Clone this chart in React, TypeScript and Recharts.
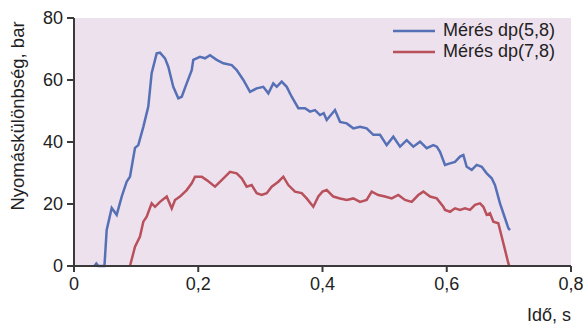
import React from 'react';
import { LineChart, Line, XAxis, YAxis, CartesianGrid, Label } from 'recharts';

const blueTime = [0.033, 0.036, 0.039, 0.049, 0.0526, 0.0607, 0.0687, 0.0768, 0.0848, 0.0901, 0.0982, 0.1035, 0.1116, 0.1196, 0.125, 0.1331, 0.1384, 0.1465, 0.1518, 0.1598, 0.1679, 0.1734, 0.1814, 0.1895, 0.192, 0.2028, 0.2109, 0.2189, 0.2297, 0.2404, 0.2539, 0.2619, 0.2726, 0.2833, 0.2941, 0.3047, 0.3128, 0.3208, 0.3263, 0.3343, 0.3424, 0.3504, 0.3611, 0.3718, 0.3799, 0.3879, 0.396, 0.402, 0.4068, 0.4201, 0.4282, 0.439, 0.4496, 0.4604, 0.4711, 0.4818, 0.4926, 0.5033, 0.514, 0.5248, 0.5355, 0.5462, 0.557, 0.5677, 0.5784, 0.584, 0.5892, 0.5972, 0.6053, 0.6133, 0.6213, 0.6267, 0.6321, 0.6402, 0.6482, 0.6563, 0.6643, 0.6724, 0.6777, 0.6857, 0.6938, 0.6991, 0.7018];
const blueValue = [0, 0.8, 0, 0, 11.6, 18.7, 16.5, 22.4, 27.2, 28.8, 38.1, 39, 44.9, 51.4, 62.2, 68.6, 68.8, 67, 64.3, 57.8, 54.1, 54.6, 58.9, 63.2, 66.5, 67.5, 67, 68, 66.5, 65.4, 64.8, 63.2, 60, 56.2, 57.3, 57.8, 55.7, 58.9, 57.8, 59.5, 57.8, 54.6, 50.9, 50.9, 49.8, 50.3, 48.7, 49.3, 47.1, 50.3, 46.5, 46, 44.4, 44.9, 44.4, 42.3, 42.3, 39, 41.7, 38.5, 40.6, 38.5, 40.1, 38, 39, 38.5, 36.8, 32.6, 33.1, 33.6, 35.3, 35.8, 32, 31, 32.6, 32, 29.9, 28.3, 26.1, 20.2, 15.4, 12.2, 11.6];

const redTime = [0.0901, 0.0982, 0.1062, 0.1116, 0.117, 0.125, 0.1304, 0.1384, 0.1492, 0.1573, 0.1626, 0.1706, 0.1814, 0.1895, 0.1948, 0.2056, 0.2136, 0.227, 0.2377, 0.2511, 0.2619, 0.27, 0.278, 0.286, 0.2941, 0.3021, 0.3102, 0.3182, 0.3289, 0.3369, 0.345, 0.3557, 0.3665, 0.3745, 0.3852, 0.3933, 0.4, 0.4068, 0.4174, 0.4282, 0.439, 0.4496, 0.4604, 0.4711, 0.4792, 0.4898, 0.5006, 0.5114, 0.522, 0.5328, 0.5436, 0.5542, 0.5623, 0.5731, 0.5839, 0.5945, 0.5972, 0.6053, 0.6133, 0.6213, 0.6294, 0.6374, 0.6455, 0.6535, 0.6589, 0.6643, 0.6696, 0.675, 0.683, 0.6884, 0.6938, 0.6991, 0.7007];
const redValue = [0, 6.2, 9.5, 14.3, 15.9, 20.2, 19.1, 20.7, 22.4, 18.6, 21.3, 22.4, 24.5, 26.7, 28.8, 28.8, 27.7, 25.6, 27.7, 30.4, 29.9, 28.3, 25.6, 26.1, 23.5, 22.9, 23.5, 25.6, 27.2, 28.8, 26.1, 24, 23.5, 21.8, 19.1, 22.4, 24, 24.5, 22.4, 21.8, 21.3, 21.8, 20.7, 21.3, 24, 22.9, 22.4, 21.8, 22.9, 21.3, 20.7, 22.9, 24, 22.4, 21.8, 19.1, 18.1, 17.5, 18.6, 18.1, 18.6, 18.1, 19.7, 20.2, 19.1, 16.5, 17, 14.3, 13.8, 9.5, 5.2, 0.9, 0];

const xTicks = [0, 0.2, 0.4, 0.6, 0.8];
const yTicks = [0, 20, 40, 60, 80];
const seriesNames = ['Mérés dp(5,8)', 'Mérés dp(7,8)'];
const seriesColors = ['#5670B6', '#B8515C'];
const xTitle = 'Idő, s';
const yTitle = 'Nyomáskülönbség, bar';

const blueData = blueTime.map((t, i) => ({ t, v: blueValue[i] }));
const redData = redTime.map((t, i) => ({ t, v: redValue[i] }));

const FONT = '"Liberation Sans", Arial, sans-serif';
const AXIS = '#3a3a3a';

export default function App() {
  return (
    <div style={{ position: 'absolute', left: 0, top: 0, width: 583, height: 324, background: '#fff' }}>
      <LineChart width={583} height={324} margin={{ top: 18, right: 12, bottom: 0, left: 0 }}>
        <CartesianGrid horizontal={false} vertical={false} fill="#EEE1EE" stroke="none" />
        <XAxis
          type="number"
          dataKey="t"
          domain={[0, 0.8]}
          ticks={xTicks}
          allowDataOverflow
          height={58}
          stroke={AXIS}
          strokeWidth={2}
          tickSize={6}
          tickMargin={5}
          tickFormatter={(v: number) => String(v).replace('.', ',')}
          tick={{ fontSize: 18, fill: '#222', fontFamily: FONT }}
        >
          <Label
            content={() => (
              <text x={549} y={321} textAnchor="middle" fontSize={18} fill="#222" fontFamily={FONT}>
                {xTitle}
              </text>
            )}
          />
        </XAxis>
        <XAxis xAxisId="top" orientation="top" type="number" domain={[0, 0.8]} height={0} tick={false} tickLine={false} stroke={AXIS} strokeWidth={2} />
        <YAxis
          type="number"
          domain={[0, 80]}
          ticks={yTicks}
          width={74}
          stroke={AXIS}
          strokeWidth={2}
          tickSize={7}
          tickMargin={4}
          tick={{ fontSize: 18, fill: '#222', fontFamily: FONT }}
        >
          <Label
            content={() => (
              <text x={24} y={116} transform="rotate(-90, 24, 116)" textAnchor="middle" fontSize={18.5} fill="#222" fontFamily={FONT}>
                {yTitle}
              </text>
            )}
          />
        </YAxis>
        <YAxis yAxisId="right" orientation="right" type="number" domain={[0, 80]} width={0} tick={false} tickLine={false} stroke={AXIS} strokeWidth={2} />
        <Line data={blueData} dataKey="v" name={seriesNames[0]} stroke={seriesColors[0]} strokeWidth={2.5} dot={false} isAnimationActive={false} type="linear" />
        <Line data={redData} dataKey="v" name={seriesNames[1]} stroke={seriesColors[1]} strokeWidth={2.5} dot={false} isAnimationActive={false} type="linear" />
      </LineChart>
      <div style={{ position: 'absolute', left: 393, top: 20, fontFamily: FONT, fontSize: 18, color: '#222', lineHeight: '21px' }}>
        {seriesNames.map((n, i) => (
          <div key={n} style={{ display: 'flex', alignItems: 'center', height: 21 }}>
            <svg width={42} height={4} style={{ marginRight: 8 }}>
              <line x1={0} y1={2} x2={42} y2={2} stroke={seriesColors[i]} strokeWidth={2.5} />
            </svg>
            <span>{n}</span>
          </div>
        ))}
      </div>
    </div>
  );
}
